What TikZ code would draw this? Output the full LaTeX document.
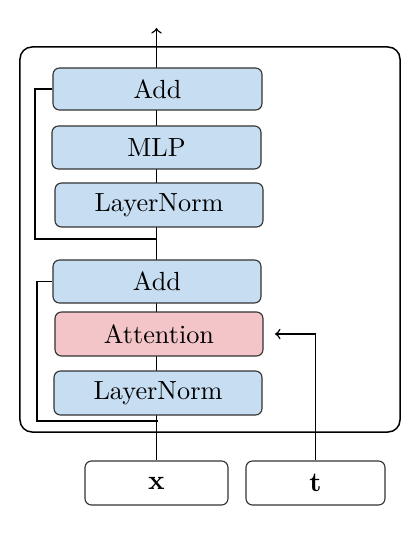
\documentclass[tikz,border=0pt]{standalone}
\usetikzlibrary{backgrounds}
\definecolor{blk}{HTML}{C7DDF1}
\definecolor{att}{HTML}{F4C5C8}
\definecolor{edge}{HTML}{333333}
\tikzset{
  blockbox/.style={draw=edge, line width=0.45pt, rounded corners=2.6pt, inner sep=0pt,
    font=\fontsize{10.5}{12}\selectfont},
  conn/.style={line width=0.6pt, black},
}
\begin{document}
\begin{tikzpicture}[x=0.4pt,y=-0.4pt]
\useasboundingbox (0,0) rectangle (413,538);
% outer block
\node[draw, line width=0.6pt, rounded corners=4.8pt, minimum width=152pt, minimum height=154pt, inner sep=0pt] (block) at (210,239.5) {};
% inner blocks
\node[blockbox, fill=blk, minimum width=83.6pt, minimum height=16.8pt] (add2) at (157.5,89) {Add};
\node[blockbox, fill=blk, minimum width=83.6pt, minimum height=17.2pt] (mlp) at (156.5,147.5) {MLP};
\node[blockbox, fill=blk, minimum width=83.2pt, minimum height=17.6pt] (ln2) at (159,205) {LayerNorm};
\node[blockbox, fill=blk, minimum width=83.2pt, minimum height=17.2pt] (add1) at (157,281.5) {Add};
\node[blockbox, fill=att, minimum width=83.2pt, minimum height=17.6pt] (attn) at (159,334) {Attention};
\node[blockbox, fill=blk, minimum width=83.2pt, minimum height=17.6pt] (ln1) at (158,393) {LayerNorm};
% inputs
\node[blockbox, fill=white, minimum width=57.2pt, minimum height=17.6pt] (x) at (156.5,483) {$\mathbf{x}$};
\node[blockbox, fill=white, minimum width=55.6pt, minimum height=17.6pt] (t) at (315.5,483) {$\mathbf{t}$};
% coordinates
\coordinate (out) at (156.5,28);
\coordinate (s2l) at (35,239);
\coordinate (s2r) at (156.5,239);
\coordinate (s1l) at (37,421);
\coordinate (s1r) at (158,421);
\coordinate (tin) at (275,334);
\begin{scope}[on background layer]
\draw[conn,->] (x.north) -- (out);
\draw[conn] (add2.west) -| (s2l) -- (s2r);
\draw[conn] (add1.west) -| (s1l) -- (s1r);
\end{scope}
\draw[conn,->] (t.north) |- (tin);
\end{tikzpicture}
\end{document}
